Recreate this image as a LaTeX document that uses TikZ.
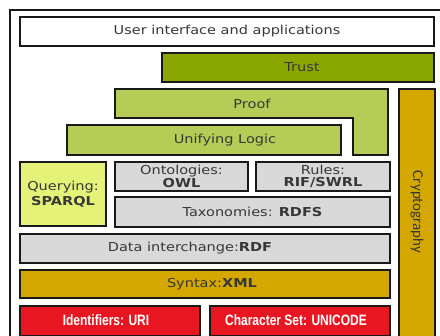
\documentclass[tikz,border=0pt]{standalone}
\usepackage{fontspec}
\setmainfont[FakeStretch=1.18]{DejaVu Sans}
\newfontfamily\redfont[FakeStretch=0.8]{Liberation Sans}
\newfontfamily\cryptofont{Carlito}
\definecolor{trustc}{RGB}{138,166,0}
\definecolor{proofc}{RGB}{181,204,86}
\definecolor{queryc}{RGB}{228,242,120}
\definecolor{grayc}{RGB}{217,217,217}
\definecolor{mustc}{RGB}{212,168,0}
\definecolor{redc}{RGB}{232,22,32}
\definecolor{txtc}{RGB}{55,55,55}
\definecolor{edgec}{RGB}{25,25,25}
\begin{document}
\begin{tikzpicture}[x=1pt,y=-1pt,
  layer/.style={draw=edgec,line width=2pt,inner sep=0pt,outer sep=0pt,anchor=north west,
    font=\fontsize{12.3}{12}\selectfont,text=txtc,align=center},
  lbl/.style={font=\fontsize{12.3}{12}\selectfont,text=txtc},
  redlbl/.style={text=white,font=\redfont\bfseries\fontsize{15}{15}\selectfont}]
\useasboundingbox (0,0) rectangle (440,336);
\draw[edgec,line width=2pt] (10,10) rectangle (446,346);
\node[layer,fill=white,minimum width=414pt,minimum height=29pt] (ui) at (20,17) {User interface and applications};
\node[layer,fill=trustc,minimum width=272pt,minimum height=29pt] (trust) at (162,53) {};
\node[lbl] (trusttext) at (302,67.5) {Trust};
\draw[edgec,line width=2pt,fill=proofc] (115,89) -- (388,89) -- (388,155) -- (353,155) -- (353,118) -- (115,118) -- cycle;
\node[lbl] (proof) at (252,103.5) {Proof};
\node[layer,fill=proofc,minimum width=274pt,minimum height=30pt] (logic) at (67,125) {};
\node[lbl] (logictext) at (225,140) {Unifying Logic};
\node[layer,fill=mustc,minimum width=36pt,minimum height=250pt] (crypto) at (399,89) {};
\node[rotate=-90,font=\cryptofont\fontsize{15}{15}\selectfont,text=txtc] (cryptotext) at (417,212) {Cryptography};
\node[layer,fill=queryc,minimum width=86pt,minimum height=64pt] (query) at (20,162) {Querying:\\[3pt]\textbf{SPARQL}};
\node[layer,fill=grayc,minimum width=133pt,minimum height=29pt,font=\fontsize{12.3}{11.5}\selectfont] (owl) at (115,162) {Ontologies:\\\textbf{OWL}};
\node[layer,fill=grayc,minimum width=134pt,minimum height=29pt,font=\fontsize{12.3}{11.5}\selectfont] (rules) at (256,162) {Rules:\\\textbf{RIF/SWRL}};
\node[layer,fill=grayc,minimum width=275pt,minimum height=30pt] (rdfs) at (115,197) {Taxonomies: \textbf{RDFS}};
\node[layer,fill=grayc,minimum width=370pt,minimum height=29pt] (rdf) at (20,234) {};
\node[lbl] (rdftext) at (190,248.5) {Data interchange:\textbf{RDF}};
\node[layer,fill=mustc,minimum width=370pt,minimum height=28pt] (xml) at (20,270) {};
\node[lbl] (xmltext) at (212,284) {Syntax:\textbf{XML}};
\node[layer,fill=redc,minimum width=180pt,minimum height=30pt] (uri) at (20,306) {};
\node[redlbl] (uritext) at (106,320.5) {Identifiers: URI};
\node[layer,fill=redc,minimum width=180pt,minimum height=30pt] (unicode) at (210,306) {};
\node[redlbl] (unicodetext) at (296,320.5) {Character Set: UNICODE};
\end{tikzpicture}
\end{document}
